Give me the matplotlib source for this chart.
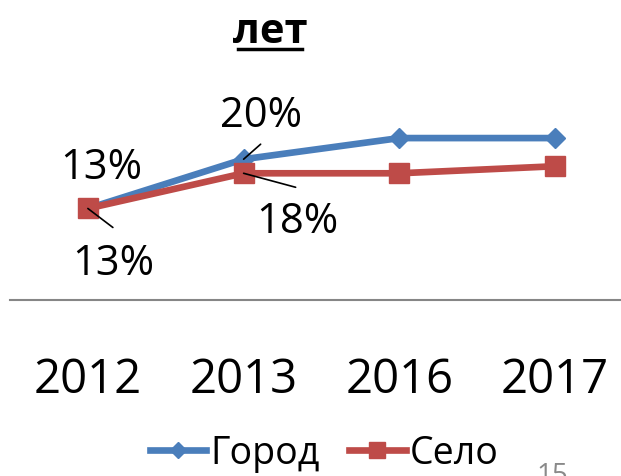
import matplotlib
matplotlib.use("Agg")
import matplotlib.pyplot as plt
from matplotlib.lines import Line2D

plt.rcParams['font.family'] = ['Open Sans', 'DejaVu Sans']

years = ['2012', '2013', '2016', '2017']
gorod = [13, 20, 23, 23]
selo = [13, 18, 18, 19]

# labels on the first two points: text offset and leader end offset, in px
gorod_labels = {0: ((13, 41), None), 1: ((17, 44), (17, 15))}
selo_labels = {0: ((25, -55), (25, -19)), 1: ((54, -48), (52, -14))}

blue = '#4A7EBB'
red = '#BE4B48'

W, H = 621, 477
fig = plt.figure(figsize=(W / 100, H / 100), dpi=100)
ax = fig.add_axes([10 / W, (H - 301) / H, 623 / W, 176 / H])

x = range(len(years))
ax.plot(x, gorod, color=blue, lw=4.8, marker='D', ms=10, label='Город', zorder=3)
ax.plot(x, selo, color=red, lw=4.8, marker='s', ms=14, label='Село', zorder=3)

ax.set_xlim(-0.5, 3.5)
ax.set_ylim(0, 25)
ax.set_yticks([])
ax.set_xticks(list(x))
ax.set_xticklabels(years, fontsize=34)
ax.tick_params(axis='x', length=0, pad=40)
for s in ['top', 'right', 'left']:
    ax.spines[s].set_visible(False)
ax.spines['bottom'].set_color('#868686')
ax.spines['bottom'].set_linewidth(1.5)


def label(vals, idx, text_off, lead_off):
    xy = (idx, vals[idx])
    ax.annotate(f'{vals[idx]}%', xy=xy, xytext=(text_off[0] * 0.72, text_off[1] * 0.72),
                textcoords='offset points', ha='center', va='center', fontsize=30, zorder=4)
    if lead_off:
        ax.annotate('', xy=xy, xytext=(lead_off[0] * 0.72, lead_off[1] * 0.72),
                    textcoords='offset points',
                    arrowprops=dict(arrowstyle='-', color='black', lw=1.2,
                                    shrinkA=0, shrinkB=0), zorder=4)


for i, (t, l) in gorod_labels.items():
    label(gorod, i, t, l)
for i, (t, l) in selo_labels.items():
    label(selo, i, t, l)

fig.text(270 / W, (H - 43) / H, 'лет', ha='center', va='baseline',
         fontsize=30, fontweight='bold')
fig.add_artist(Line2D([238 / W, 302 / W], [(H - 50) / H] * 2, color='black', lw=2.5))

ax.legend(loc='center', bbox_to_anchor=(324 / W, 23 / H), bbox_transform=fig.transFigure,
          ncol=2, frameon=False, fontsize=27, handlelength=1.5, handletextpad=0.1,
          columnspacing=0.8, markerscale=0.8)

fig.text(552 / W, (H - 462) / H, '15', ha='center', va='top', fontsize=20, color='#898989')

fig.savefig('out.png', dpi=100)
